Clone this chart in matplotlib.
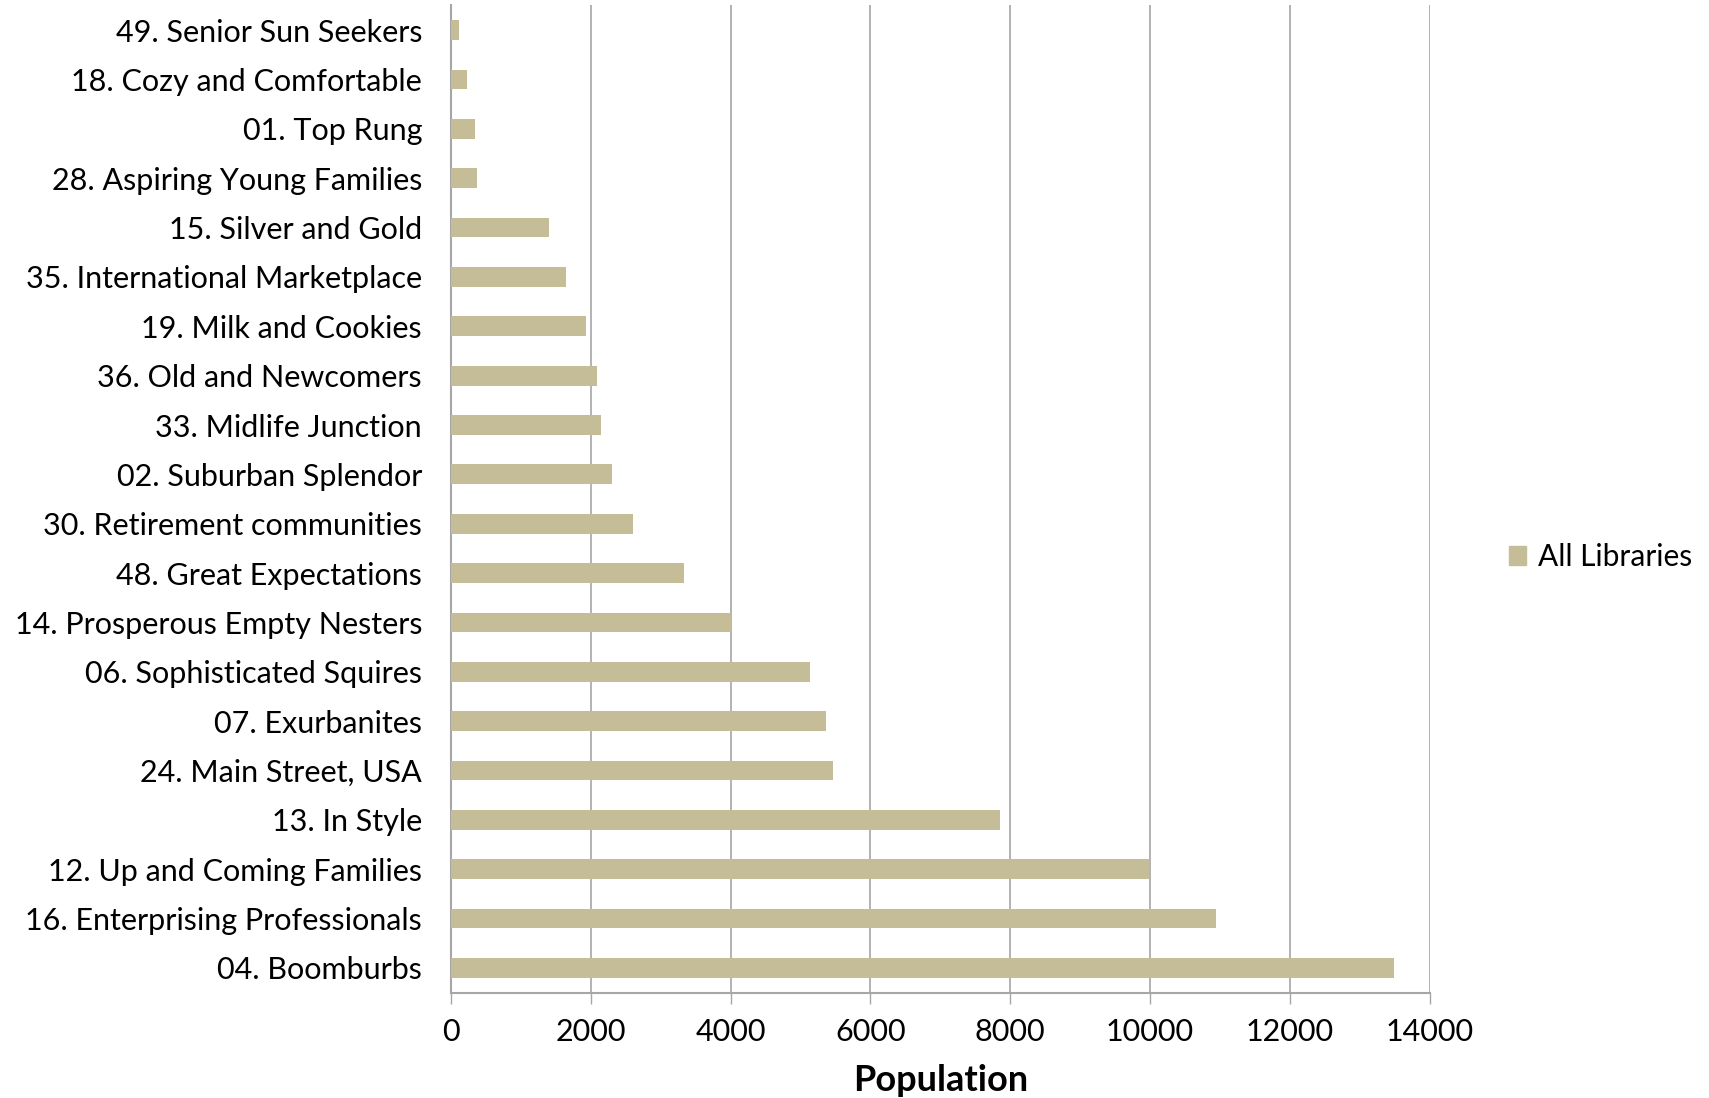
import matplotlib.pyplot as plt
import matplotlib.patches as mpatches

# segments, listed top to bottom as in the chart
segments = [
    '49. Senior Sun Seekers',
    '18. Cozy and Comfortable',
    '01. Top Rung',
    '28. Aspiring Young Families',
    '15. Silver and Gold',
    '35. International Marketplace',
    '19. Milk and Cookies',
    '36. Old and Newcomers',
    '33. Midlife Junction',
    '02. Suburban Splendor',
    '30. Retirement communities',
    '48. Great Expectations',
    '14. Prosperous Empty Nesters',
    '06. Sophisticated Squires',
    '07. Exurbanites',
    '24. Main Street, USA',
    '13. In Style',
    '12. Up and Coming Families',
    '16. Enterprising Professionals',
    '04. Boomburbs',
]
population = [105, 225, 340, 368, 1400, 1645, 1928, 2086, 2139, 2306,
              2603, 3330, 4005, 5134, 5368, 5460, 7860, 9985, 10945, 13490]
xticks = [0, 2000, 4000, 6000, 8000, 10000, 12000, 14000]

BAR = '#C4BD97'
GRID = '#A6A6A6'

plt.rcParams['font.family'] = ['Lato', 'DejaVu Sans']

fig = plt.figure(figsize=(17.09, 10.98), dpi=100)
ax = fig.add_axes([0.264, 0.096, 0.5725, 0.899])

y = list(range(len(segments)))
ax.barh(y, population, height=0.4, color=BAR, zorder=3)
ax.set_ylim(len(segments) - 0.5, -0.5)
ax.set_xlim(0, 14000)

ax.set_yticks(y)
ax.set_yticklabels(segments, fontsize=22)
ax.set_xticks(xticks)
ax.set_xticklabels([str(t) for t in xticks], fontsize=22)
ax.tick_params(axis='y', length=0, pad=21)
ax.tick_params(axis='x', length=8, width=1, color=GRID, direction='out', pad=10)

ax.grid(True, axis='x', color=GRID, linewidth=1.2, zorder=0)
ax.grid(False, axis='y')
for side in ['top', 'right']:
    ax.spines[side].set_visible(False)
for side in ['left', 'bottom']:
    ax.spines[side].set_color(GRID)
    ax.spines[side].set_linewidth(1.5)

ax.set_xlabel('Population', fontsize=26, fontweight='bold', labelpad=13)

handle = mpatches.Patch(color=BAR, label='All Libraries')
fig.legend(handles=[handle], loc='center left', bbox_to_anchor=(0.867, 0.493),
           frameon=False, fontsize=21.5, handlelength=0.6, handleheight=0.6,
           handletextpad=0.4)

fig.savefig('out.png', dpi=100)
